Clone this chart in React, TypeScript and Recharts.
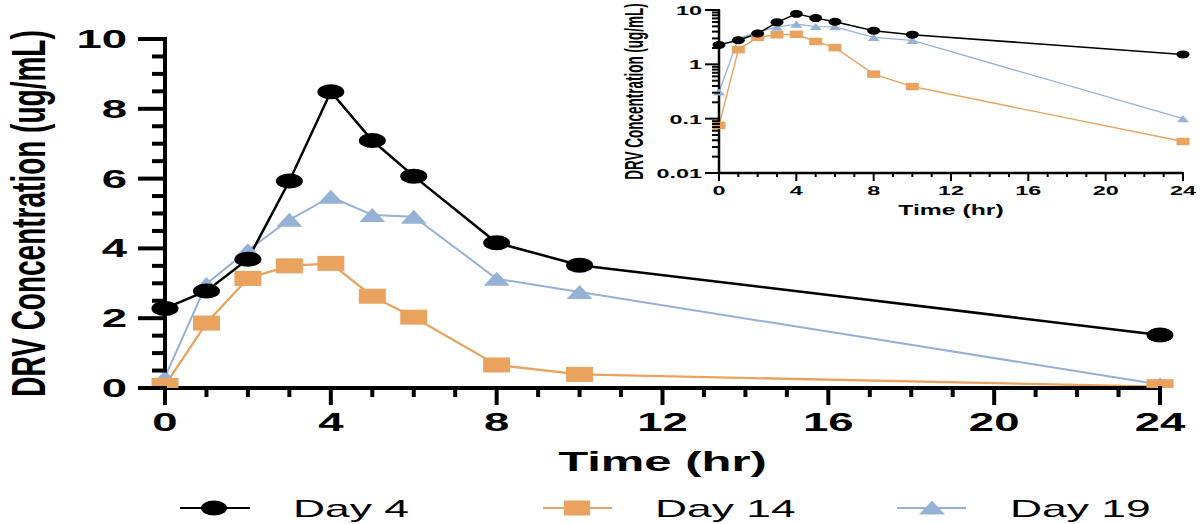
import React from 'react';
import { LineChart, Line, XAxis, YAxis, Legend, Label } from 'recharts';

// ---------- data ----------
const times = [0, 1, 2, 3, 4, 5, 6, 8, 10, 24];
const day4 = [2.28, 2.78, 3.69, 5.93, 8.49, 7.09, 6.07, 4.16, 3.52, 1.52];
const day14 = [0.075, 1.86, 3.14, 3.5, 3.57, 2.63, 2.03, 0.66, 0.39, 0.038];
const day19 = [0.31, 2.98, 3.95, 4.82, 5.48, 4.96, 4.91, 3.13, 2.75, 0.1];

const seriesNames = ['Day 4', 'Day 14', 'Day 19'];
const xTicks = [0, 1, 2, 3, 4, 5, 6, 7, 8, 9, 10, 11, 12, 13, 14, 15, 16, 17, 18, 19, 20, 21, 22, 23, 24];
const xMajor = [0, 4, 8, 12, 16, 20, 24];
const yMainTicks = [0, 0.5, 1, 1.5, 2, 2.5, 3, 3.5, 4, 4.5, 5, 5.5, 6, 6.5, 7, 7.5, 8, 8.5, 9, 9.5, 10];
const yMainMajor = [0, 2, 4, 6, 8, 10];
const yLogTicks = [
  0.01, 0.02, 0.03, 0.04, 0.05, 0.06, 0.07, 0.08, 0.09,
  0.1, 0.2, 0.3, 0.4, 0.5, 0.6, 0.7, 0.8, 0.9,
  1, 2, 3, 4, 5, 6, 7, 8, 9, 10,
];
const yLogMajor = [0.01, 0.1, 1, 10];
const yLogLabels = ['0.01', '0.1', '1', '10'];

const data = times.map((t, i) => ({ t, d4: day4[i], d14: day14[i], d19: day19[i] }));

// ---------- styles ----------
const FONT = '"Liberation Sans", Arial, Helvetica, sans-serif';
const BLACK = '#000000';
const ORANGE = '#E9A35E';
const BLUE = '#96B1D6';

const SText = ({ x, y, anchor = 'middle', size, weight = 'bold', sx = 1.8, children, fill = '#000' }: any) => (
  <text
    transform={`translate(${x},${y}) scale(${sx},1)`}
    textAnchor={anchor}
    fontSize={size}
    fontWeight={weight}
    fontFamily={FONT}
    fill={fill}
  >
    {children}
  </text>
);

// ---------- markers ----------
const mkCircle = (rx: number, ry: number, tag: string) => (p: any) => (
  <ellipse key={`${tag}-${p.index}`} cx={p.cx} cy={p.cy} rx={rx} ry={ry} fill={BLACK} />
);
const mkSquare = (w: number, h: number, tag: string) => (p: any) => (
  <rect key={`${tag}-${p.index}`} x={p.cx - w / 2} y={p.cy - h / 2} width={w} height={h} fill={ORANGE} />
);
const mkTri = (w: number, h: number, tag: string) => (p: any) => (
  <polygon
    key={`${tag}-${p.index}`}
    points={`${p.cx - w / 2},${p.cy + h / 2} ${p.cx + w / 2},${p.cy + h / 2} ${p.cx},${p.cy - h / 2}`}
    fill={BLUE}
  />
);

// ---------- main ticks ----------
const MainXTick = (props: any) => {
  const { x, y, payload } = props;
  const v = payload.value;
  const major = xMajor.includes(v);
  return (
    <g>
      <line x1={x} x2={x} y1={y - 2} y2={y + (major ? 17 : 9)} stroke={BLACK} strokeWidth={4} />
      {major && (
        <SText x={x} y={y + 43} size={25} sx={1.82}>
          {v}
        </SText>
      )}
    </g>
  );
};

const MainYTick = (props: any) => {
  const { x, y, payload } = props;
  const v = payload.value;
  const major = yMainMajor.includes(v);
  return (
    <g>
      <line x1={x - (major ? 27 : 13)} x2={x + 2} y1={y} y2={y} stroke={BLACK} strokeWidth={4} />
      {major && (
        <SText x={x - 38} y={y + 9} anchor="end" size={25} sx={1.82}>
          {v}
        </SText>
      )}
    </g>
  );
};

// ---------- inset ticks ----------
const InsetXTick = (props: any) => {
  const { x, y, payload } = props;
  const v = payload.value;
  const major = xMajor.includes(v);
  return (
    <g>
      <line x1={x} x2={x} y1={y - 1} y2={y + (major ? 8 : 4)} stroke={BLACK} strokeWidth={2} />
      {major && (
        <SText x={x} y={y + 22} size={13} sx={1.8}>
          {v}
        </SText>
      )}
    </g>
  );
};

const InsetYTick = (props: any) => {
  const { x, y, payload } = props;
  const v = payload.value;
  const mi = yLogMajor.findIndex((m) => Math.abs(m - v) < 1e-9);
  const major = mi >= 0;
  return (
    <g>
      <line x1={x - (major ? 14 : 7)} x2={x + 1} y1={y} y2={y} stroke={BLACK} strokeWidth={2} />
      {major && (
        <SText x={x - 17} y={y + 5} anchor="end" size={13} sx={1.8}>
          {yLogLabels[mi]}
        </SText>
      )}
    </g>
  );
};

// ---------- legend ----------
const legendItems = [
  { name: seriesNames[0], color: BLACK, shape: 'circle', x1: 180, x2: 250, mx: 214, tx: 293 },
  { name: seriesNames[1], color: ORANGE, shape: 'square', x1: 543, x2: 612, mx: 577, tx: 655 },
  { name: seriesNames[2], color: BLUE, shape: 'triangle', x1: 897, x2: 966, mx: 932, tx: 1010 },
];

const LegendContent = () => (
  <svg width={1200} height={36} style={{ display: 'block' }}>
    {legendItems.map((it) => (
      <g key={it.name}>
        <line x1={it.x1} x2={it.x2} y1={18} y2={18} stroke={it.color} strokeWidth={2} />
        {it.shape === 'circle' && <ellipse cx={it.mx} cy={18} rx={13} ry={7.5} fill={it.color} />}
        {it.shape === 'square' && <rect x={it.mx - 13} y={18 - 7.5} width={26} height={15} fill={it.color} />}
        {it.shape === 'triangle' && (
          <polygon points={`${it.mx - 13},${18 + 6.5} ${it.mx + 13},${18 + 6.5} ${it.mx},${18 - 7.5}`} fill={it.color} />
        )}
        <SText x={it.tx} y={27} anchor="start" size={24} weight="normal" sx={1.85}>
          {it.name}
        </SText>
      </g>
    ))}
  </svg>
);

export default function App() {
  return (
    <div style={{ position: 'absolute', left: 0, top: 0, width: 1200, height: 524, background: '#fff' }}>
      <div style={{ position: 'absolute', left: 0, top: 0 }}>
        <LineChart width={1200} height={524} data={data} margin={{ top: 39, right: 40, left: 65, bottom: 30 }}>
          <XAxis
            dataKey="t"
            type="number"
            domain={[0, 24]}
            ticks={xTicks}
            interval={0}
            tickSize={0}
            tickMargin={0}
            tickLine={false}
            height={70}
            axisLine={{ stroke: BLACK, strokeWidth: 4 }}
            tick={<MainXTick />}
          >
            <Label
              content={(p: any) => {
                const vb = p.viewBox || { x: 165, width: 995, y: 388 };
                return (
                  <SText x={vb.x + vb.width / 2} y={vb.y + 83} size={28} sx={1.75}>
                    Time (hr)
                  </SText>
                );
              }}
            />
          </XAxis>
          <YAxis
            type="number"
            domain={[0, 10]}
            ticks={yMainTicks}
            interval={0}
            tickSize={0}
            tickMargin={0}
            tickLine={false}
            width={100}
            axisLine={{ stroke: BLACK, strokeWidth: 4 }}
            tick={<MainYTick />}
            allowDataOverflow
          >
            <Label
              content={(p: any) => {
                const vb = p.viewBox || { x: 65, y: 39, height: 349 };
                const cy = vb.y + vb.height / 2;
                return (
                  <text
                    transform={`translate(${vb.x - 20},${cy}) scale(1.7,1) rotate(-90)`}
                    textAnchor="middle"
                    fontSize={28}
                    fontWeight="bold"
                    fontFamily={FONT}
                    fill={BLACK}
                  >
                    DRV Concentration (ug/mL)
                  </text>
                );
              }}
            />
          </YAxis>
          <Legend
            verticalAlign="bottom"
            align="left"
            content={<LegendContent />}
            wrapperStyle={{ position: 'absolute', left: 0, top: 490, bottom: 'auto', width: 1200, height: 36, margin: 0 }}
          />
          <Line
            name={seriesNames[2]}
            dataKey="d19"
            stroke={BLUE}
            strokeWidth={2}
            dot={mkTri(26, 14, 'm19')}
            activeDot={false}
            isAnimationActive={false}
          />
          <Line
            name={seriesNames[1]}
            dataKey="d14"
            stroke={ORANGE}
            strokeWidth={2.3}
            dot={mkSquare(27, 15, 'm14')}
            activeDot={false}
            isAnimationActive={false}
          />
          <Line
            name={seriesNames[0]}
            dataKey="d4"
            stroke={BLACK}
            strokeWidth={2.5}
            dot={mkCircle(13.5, 7.5, 'm4')}
            activeDot={false}
            isAnimationActive={false}
          />
        </LineChart>
      </div>

      <div style={{ position: 'absolute', left: 600, top: 0 }}>
        <LineChart width={600} height={230} data={data} margin={{ top: 10, right: 17, left: 59, bottom: 17 }}>
          <XAxis
            dataKey="t"
            type="number"
            domain={[0, 24]}
            ticks={xTicks}
            interval={0}
            tickSize={0}
            tickMargin={0}
            tickLine={false}
            height={40}
            axisLine={{ stroke: BLACK, strokeWidth: 2.5 }}
            tick={<InsetXTick />}
          >
            <Label
              content={(p: any) => {
                const vb = p.viewBox || { x: 119, width: 464, y: 173 };
                return (
                  <SText x={vb.x + vb.width / 2} y={vb.y + 42} size={15} sx={1.65}>
                    Time (hr)
                  </SText>
                );
              }}
            />
          </XAxis>
          <YAxis
            type="number"
            scale="log"
            domain={[0.01, 10]}
            ticks={yLogTicks}
            interval={0}
            tickSize={0}
            tickMargin={0}
            tickLine={false}
            width={60}
            axisLine={{ stroke: BLACK, strokeWidth: 2.5 }}
            tick={<InsetYTick />}
            allowDataOverflow
          >
            <Label
              content={(p: any) => {
                const vb = p.viewBox || { x: 59, y: 10, height: 163 };
                const cy = vb.y + vb.height / 2;
                return (
                  <text
                    transform={`translate(${vb.x - 16},${cy}) scale(1.85,1) rotate(-90)`}
                    textAnchor="middle"
                    fontSize={13.5}
                    fontWeight="bold"
                    fontFamily={FONT}
                    fill={BLACK}
                  >
                    DRV Concentration (ug/mL)
                  </text>
                );
              }}
            />
          </YAxis>
          <Line
            dataKey="d19"
            stroke={BLUE}
            strokeWidth={1.3}
            dot={mkTri(12, 7, 'i19')}
            activeDot={false}
            isAnimationActive={false}
          />
          <Line
            dataKey="d14"
            stroke={ORANGE}
            strokeWidth={1.4}
            dot={mkSquare(13, 7.5, 'i14')}
            activeDot={false}
            isAnimationActive={false}
          />
          <Line
            dataKey="d4"
            stroke={BLACK}
            strokeWidth={1.5}
            dot={mkCircle(6.5, 4, 'i4')}
            activeDot={false}
            isAnimationActive={false}
          />
        </LineChart>
      </div>
    </div>
  );
}
